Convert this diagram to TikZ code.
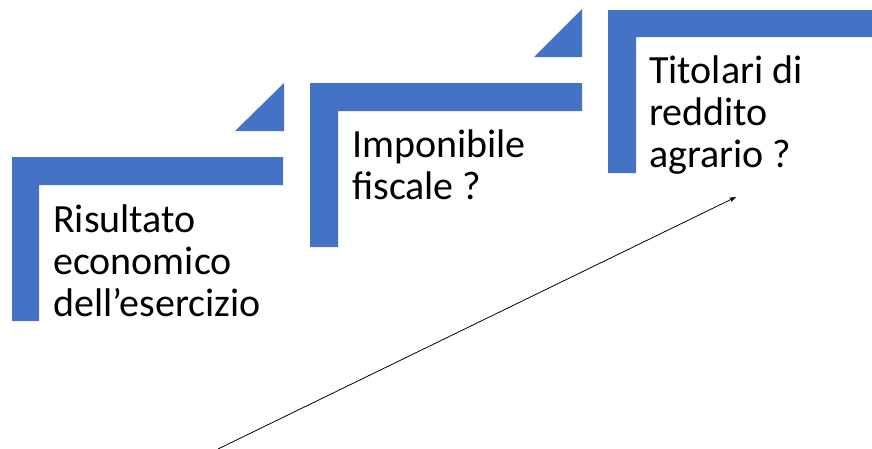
\documentclass[tikz,border=0pt]{standalone}
\usepackage{fontspec}
\setmainfont{Carlito}
\usetikzlibrary{arrows.meta}
\definecolor{stepblue}{HTML}{4472C4}
\begin{document}
\begin{tikzpicture}[x=1pt,y=-1pt,
  stepfill/.style={fill=stepblue,draw=none},
  steptext/.style={anchor=base west,inner sep=0pt,font=\fontsize{40}{42}\selectfont,text=black},
  connector/.style={draw=black,line width=0.8pt,-{Stealth[length=7pt,width=5pt]}}]
\useasboundingbox (0,0) rectangle (872,448);
% step 1
\fill[stepfill] (12,157) -- (283,157) -- (283,185) -- (39,185) -- (39,321) -- (12,321) -- cycle;
\fill[stepfill] (235,131) -- (284,83) -- (284,131) -- cycle;
% step 2
\fill[stepfill] (310,83) -- (582,83) -- (582,111) -- (338,111) -- (338,247) -- (310,247) -- cycle;
\fill[stepfill] (534,57) -- (582,9) -- (582,57) -- cycle;
% step 3
\fill[stepfill] (608,10) -- (872,10) -- (872,37) -- (636,37) -- (636,173) -- (608,173) -- cycle;
% texts
\node[steptext] (t1) at (53,232) {\vtop{\hbox{Risultato}\hbox{economico}\hbox{dell’esercizio}}};
\node[steptext] (t2) at (352,157) {\vtop{\hbox{Imponibile}\hbox{fiscale ?}}};
\node[steptext] (t3) at (649,83) {\vtop{\hbox{Titolari di}\hbox{reddito}\hbox{agrario ?}}};
% arrow
\coordinate (a0) at (218,449);
\coordinate (a1) at (736,197);
\draw[connector] (a0) -- (a1);
\end{tikzpicture}
\end{document}
